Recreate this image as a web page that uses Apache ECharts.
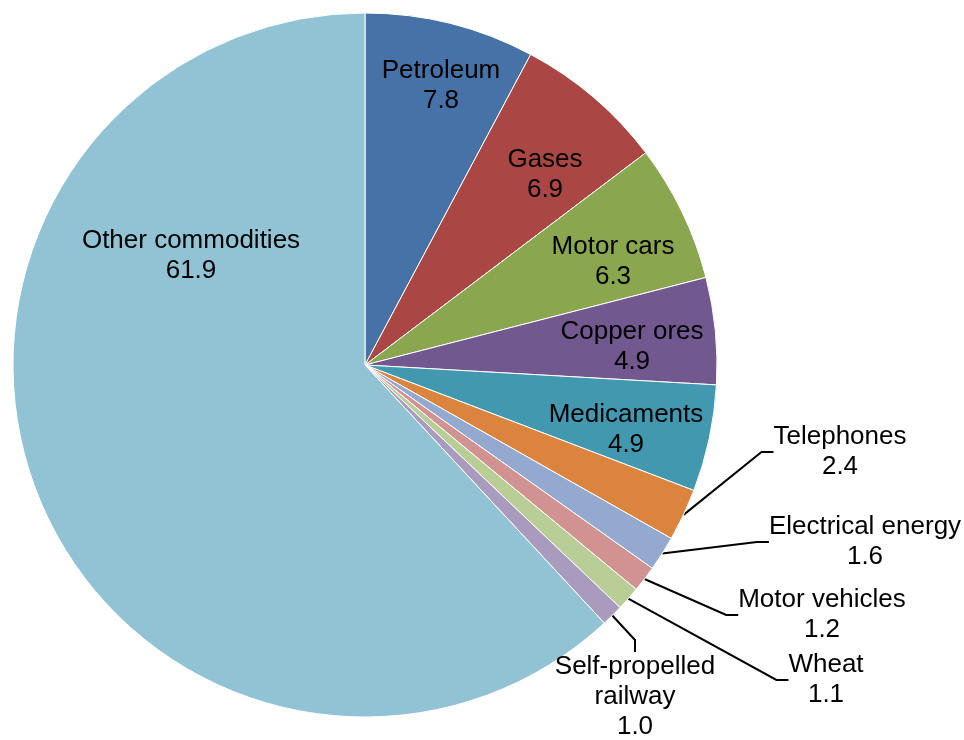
<!DOCTYPE html>
<html>
<head>
<meta charset="utf-8">
<script src="https://cdn.jsdelivr.net/npm/echarts@6/dist/echarts.min.js"></script>
<style>
  html, body { margin: 0; padding: 0; background: #fff; }
  #chart { width: 964px; height: 740px; }
</style>
</head>
<body>
<div id="chart"></div>
<script>
// slice names and shares (%), clockwise from 12 o'clock
var names = ['Petroleum', 'Gases', 'Motor cars', 'Copper ores', 'Medicaments',
  'Telephones', 'Electrical energy', 'Motor vehicles', 'Wheat',
  'Self-propelled\nrailway', 'Other commodities']
var values = [7.8, 6.9, 6.3, 4.9, 4.9, 2.4, 1.6, 1.2, 1.1, 1.0, 61.9]
var colors = ['#4672A8', '#AA4744', '#8AA64E', '#71598F', '#4298AF',
  '#DB843D', '#93A9CF', '#D19392', '#B9CD96', '#A99BBD', '#92C3D4']
// which slices get an outside label with a leader line
var outside = [false, false, false, false, false, true, true, true, true, true, false]
// label block centres (px), as placed in the original
var labelAt = [[441, 86], [545, 175], [613, 262], [632, 347], [626, 430],
  [840, 452], [865, 542], [822, 615], [826, 680], [635, 697], [191, 256]]

var myChart = echarts.init(document.getElementById('chart'))
myChart.setOption({
  animation: false,
  series: [{
    type: 'pie',
    center: [365, 365],
    radius: [0, 352],
    startAngle: 90,
    clockwise: true,
    avoidLabelOverlap: false,
    itemStyle: { borderColor: '#fff', borderWidth: 1 },
    label: {
      show: true,
      color: '#000',
      fontFamily: 'Liberation Sans, Arial, sans-serif',
      fontSize: 26,
      lineHeight: 30,
      align: 'center',
      formatter: function (p) {
        return p.name + '\n' + p.value.toFixed(1)
      }
    },
    labelLine: {
      lineStyle: { color: '#000', width: 2 },
      length: 20,
      length2: 12
    },
    labelLayout: function (p) {
      var pos = labelAt[p.dataIndex]
      return { x: pos[0], y: pos[1], align: 'center', verticalAlign: 'middle' }
    },
    data: names.map(function (n, i) {
      return {
        name: n,
        value: values[i],
        itemStyle: { color: colors[i] },
        label: { position: outside[i] ? 'outside' : 'inside' },
        labelLine: { show: outside[i] }
      }
    })
  }]
})
</script>
</body>
</html>
